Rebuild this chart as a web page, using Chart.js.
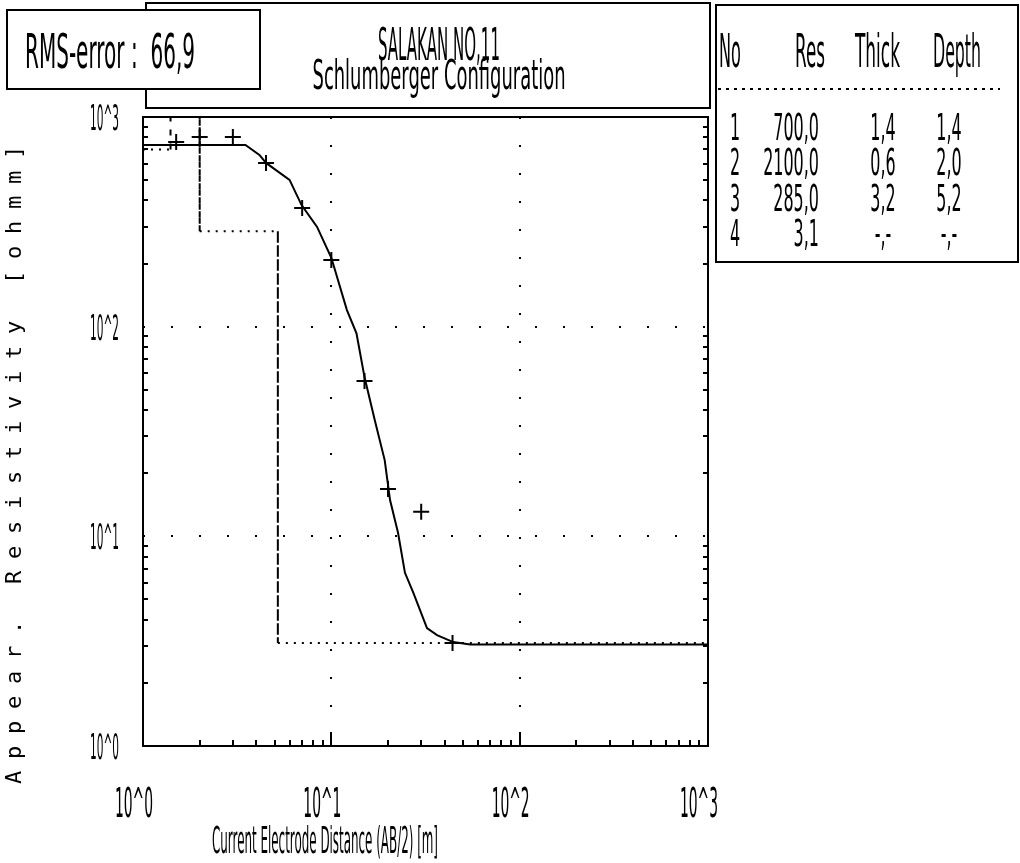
<!DOCTYPE html>
<html>
<head>
<meta charset="utf-8">
<title>SALAKAN NO,11 - Schlumberger Configuration</title>
<script src="https://cdn.jsdelivr.net/npm/chart.js@4.4.0/dist/chart.umd.min.js"></script>
<style>
  html, body { margin: 0; padding: 0; background: #fff; }
  #wrap { width: 1020px; height: 863px; }
</style>
</head>
<body>
<div id="wrap"><canvas id="sounding" width="1020" height="863"></canvas></div>
<script>
// field sounding: AB/2 [m] and apparent resistivity [ohm m]
const abHalf = [1.5, 2, 3, 4.5, 7, 10, 15, 20, 30, 44];
const rhoApparent = [760, 803, 803, 604, 368, 208, 55, 16.8, 13.1, 3.1];

// computed response of the layered model
const fitAb = [1, 2, 3.5, 4.15, 4.5, 6, 6.95, 8.4, 10, 12.1, 13.6, 15, 17, 19.2, 20.5, 22.6, 24.6, 27.2, 32.2, 36.4, 44.4, 54.6, 100, 1000];
const fitRho = [735, 735, 735, 659, 604, 501, 380, 299, 213, 120, 93, 57.5, 35.9, 23.1, 14.9, 10.4, 6.7, 5.4, 3.65, 3.38, 3.13, 3.05, 3.05, 3.05];

// layer table
const layerNo = [1, 2, 3, 4];
const layerRes = [700.0, 2100.0, 285.0, 3.1];
const layerThick = [1.4, 0.6, 3.2, null];
const layerDepth = [1.4, 2.0, 5.2, null];

const rmsError = 66.9;
const decades = [1, 10, 100, 1000];
const decadeLabels = ['10^0', '10^1', '10^2', '10^3'];
const stationName = 'SALAKAN NO,11';
const arrayName = 'Schlumberger Configuration';
const xTitle = 'Current Electrode Distance (AB/2) [m]';
const yTitle = 'Appear. Resistivity [ohmm]';

const fmt = (v, d) => v === null ? '-,-' : v.toFixed(d).replace('.', ',');

// step curve of the model: resistivity of each layer down to its bottom depth
const modelSteps = [];
let layerTop = 1;
layerRes.forEach((r, i) => {
  const bottom = layerDepth[i] ?? 1000;
  modelSteps.push({ x: layerTop, y: r }, { x: bottom, y: r });
  layerTop = bottom;
});

// tall, narrow lettering: squeeze horizontally to a given width (or factor)
function narrowText(ctx, str, x, base, cap, opt) {
  ctx.font = Math.round(cap / 0.73) + 'px "DejaVu Sans"';
  const sx = opt.width ? opt.width / ctx.measureText(str).width : opt.sx;
  ctx.save();
  ctx.translate(x, base);
  ctx.scale(sx, 1);
  ctx.textAlign = opt.align || 'left';
  ctx.textBaseline = 'alphabetic';
  ctx.fillStyle = '#000';
  ctx.fillText(str, 0, 0);
  ctx.restore();
}

const sheet = {
  id: 'sheet',
  afterDraw(chart) {
    const ctx = chart.ctx;
    const xs = chart.scales.x, ys = chart.scales.y;
    const a = chart.chartArea;
    ctx.save();
    ctx.strokeStyle = '#000';
    ctx.lineWidth = 2;

    // frames
    ctx.strokeRect(146, 3, 564, 105);
    ctx.fillStyle = '#fff';
    ctx.fillRect(7, 10, 253, 79);
    ctx.strokeRect(7, 10, 253, 79);
    ctx.strokeRect(a.left, a.top, a.right - a.left, a.bottom - a.top);
    ctx.strokeRect(716, 5, 302, 257);

    // inner ticks on the axes
    ctx.beginPath();
    for (let k = 0; k < 3; k++) {
      for (let m = 2; m <= 9; m++) {
        const v = m * Math.pow(10, k);
        const px = Math.round(xs.getPixelForValue(v));
        ctx.moveTo(px, a.bottom); ctx.lineTo(px, a.bottom - 6);
        const py = Math.round(ys.getPixelForValue(v));
        ctx.moveTo(a.left, py); ctx.lineTo(a.left + 5, py);
        ctx.moveTo(a.right, py); ctx.lineTo(a.right - 5, py);
      }
    }
    [10, 100].forEach(v => {
      const px = Math.round(xs.getPixelForValue(v));
      ctx.moveTo(px, a.bottom); ctx.lineTo(px, a.bottom - 14);
    });
    ctx.stroke();

    // table separator
    ctx.setLineDash([3, 5]);
    ctx.beginPath();
    ctx.moveTo(718, 89); ctx.lineTo(1000, 89);
    ctx.stroke();
    ctx.setLineDash([]);

    // header texts
    narrowText(ctx, 'RMS-error :  ' + fmt(rmsError, 1), 25, 68, 35, { width: 170 });
    narrowText(ctx, stationName, 439, 60, 32, { width: 122, align: 'center' });
    narrowText(ctx, arrayName, 439, 89, 30, { width: 253, align: 'center' });

    // layer table
    narrowText(ctx, 'No', 719, 67, 34, { width: 22 });
    narrowText(ctx, 'Res', 795, 67, 34, { width: 30 });
    narrowText(ctx, 'Thick', 855, 67, 34, { width: 45 });
    narrowText(ctx, 'Depth', 933, 67, 34, { width: 48 });
    const rowBase = [140, 175, 211, 246];
    layerNo.forEach((n, i) => {
      const b = rowBase[i];
      narrowText(ctx, String(n), 735, b, 28, { sx: 0.42, align: 'center' });
      narrowText(ctx, fmt(layerRes[i], 1), 819, b, 28, { sx: 0.42, align: 'right' });
      narrowText(ctx, fmt(layerThick[i], 1), 883, b, 28, { sx: 0.42, align: 'center' });
      narrowText(ctx, fmt(layerDepth[i], 1), 949, b, 28, { sx: 0.42, align: 'center' });
    });

    // decade labels
    decades.forEach((v, i) => {
      const py = ys.getPixelForValue(v);
      narrowText(ctx, decadeLabels[i], 90, py + 13, 26, { width: 29 });
      const px = xs.getPixelForValue(v);
      narrowText(ctx, decadeLabels[i], px - 9, 817, 30, { width: 38, align: 'center' });
    });

    // axis titles
    narrowText(ctx, xTitle, 212, 853, 28, { width: 226 });
    ctx.translate(15, 465);
    ctx.rotate(-Math.PI / 2);
    ctx.font = '22px "DejaVu Sans Mono"';
    ctx.fillStyle = '#000';
    ctx.textAlign = 'center';
    ctx.textBaseline = 'middle';
    const pitch = 650 / yTitle.length;
    [...yTitle].forEach((ch, i) => {
      ctx.fillText(ch, -325 + (i + 0.5) * pitch, 0);
    });
    ctx.restore();
  }
};

const decadeGrid = c => (c.tick && (c.tick.value === 10 || c.tick.value === 100)) ? '#000' : 'rgba(0,0,0,0)';

const logAxis = (fit) => ({
  type: 'logarithmic',
  min: 1,
  max: 1000,
  afterBuildTicks: s => { s.ticks = decades.map(v => ({ value: v })); },
  afterFit: fit,
  ticks: { display: false },
  grid: { color: decadeGrid, lineWidth: 2, drawTicks: false },
  border: { display: false, dash: [2, 26] }
});

new Chart(document.getElementById('sounding'), {
  type: 'scatter',
  data: {
    datasets: [
      {
        label: 'model',
        data: modelSteps,
        showLine: true,
        borderColor: '#000',
        borderWidth: 2,
        pointRadius: 0,
        segment: {
          borderDash: c => c.p0.parsed.x === c.p1.parsed.x ? [6, 8] : [2, 6]
        }
      },
      {
        label: 'calculated',
        data: fitAb.map((x, i) => ({ x, y: fitRho[i] })),
        showLine: true,
        borderColor: '#000',
        borderWidth: 2,
        pointRadius: 0
      },
      {
        label: 'field',
        data: abHalf.map((x, i) => ({ x, y: rhoApparent[i] })),
        showLine: false,
        pointStyle: 'cross',
        pointRadius: 8,
        borderColor: '#000',
        borderWidth: 2
      }
    ]
  },
  options: {
    responsive: false,
    animation: false,
    layout: { padding: { left: 100, top: 117, right: 312, bottom: 80 } },
    plugins: { legend: { display: false }, tooltip: { enabled: false } },
    scales: {
      x: logAxis(s => { s.height = 37; }),
      y: logAxis(s => { s.width = 43; })
    }
  },
  plugins: [sheet]
});
</script>
</body>
</html>
